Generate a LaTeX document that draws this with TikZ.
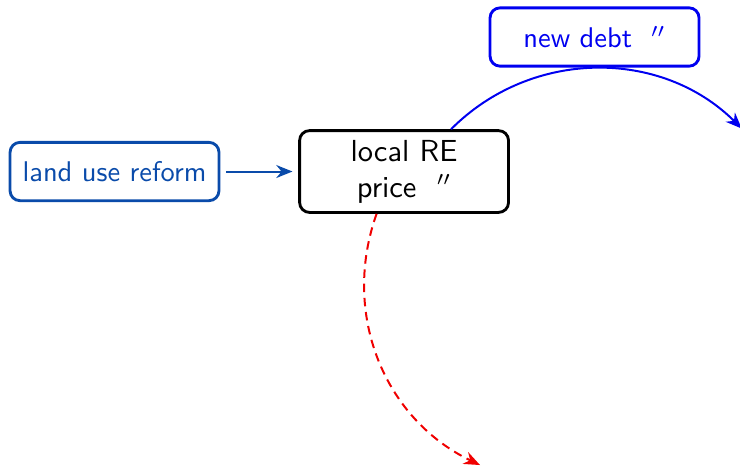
\documentclass[tikz,border=0pt]{standalone}
\usepackage{xcolor}
\usepackage{tikz}
\usetikzlibrary{arrows.meta,positioning}
\definecolor{lrBlue}{HTML}{0A4BAA}
\definecolor{lrDebt}{HTML}{0000F0}
\definecolor{lrRed}{HTML}{F00000}
\newcommand{\dprime}{$''$}

\begin{document}
\begin{tikzpicture}[
  font=\sffamily,
  bx/.style={draw,rounded corners=3.5pt,line width=1pt,align=center,
    minimum width=2.58cm,minimum height=0.72cm,inner sep=3pt},
  ar/.style={-{Stealth[length=2mm,width=1.6mm]},line width=0.7pt}
]
\useasboundingbox (-1.414,-3.661) rectangle (7.723,2.118);
\node[bx,draw=lrBlue,text=lrBlue] (land) at (0,0) {land use reform};
\node[bx,minimum height=1.01cm,right=0.96cm of land,
  font=\sffamily\fontsize{10.7}{12.6}\selectfont] (local) {local RE\\price \ \dprime};
\node[bx,draw=lrDebt,text=lrDebt] (debt) at (5.927,1.661) {new debt \ \dprime};
\coordinate (debtEnd) at (7.745,0.53);
\coordinate (priceEnd) at (4.513,-3.624);
\draw[ar,lrBlue,shorten <=2pt,shorten >=2pt] (land) -- (local);
\draw[ar,lrDebt] (local.42) to[bend left=45] (debtEnd);
\draw[ar,lrRed,dash pattern=on 3pt off 2pt] (local.-123) to[bend right=42] (priceEnd);
\end{tikzpicture}
\end{document}
